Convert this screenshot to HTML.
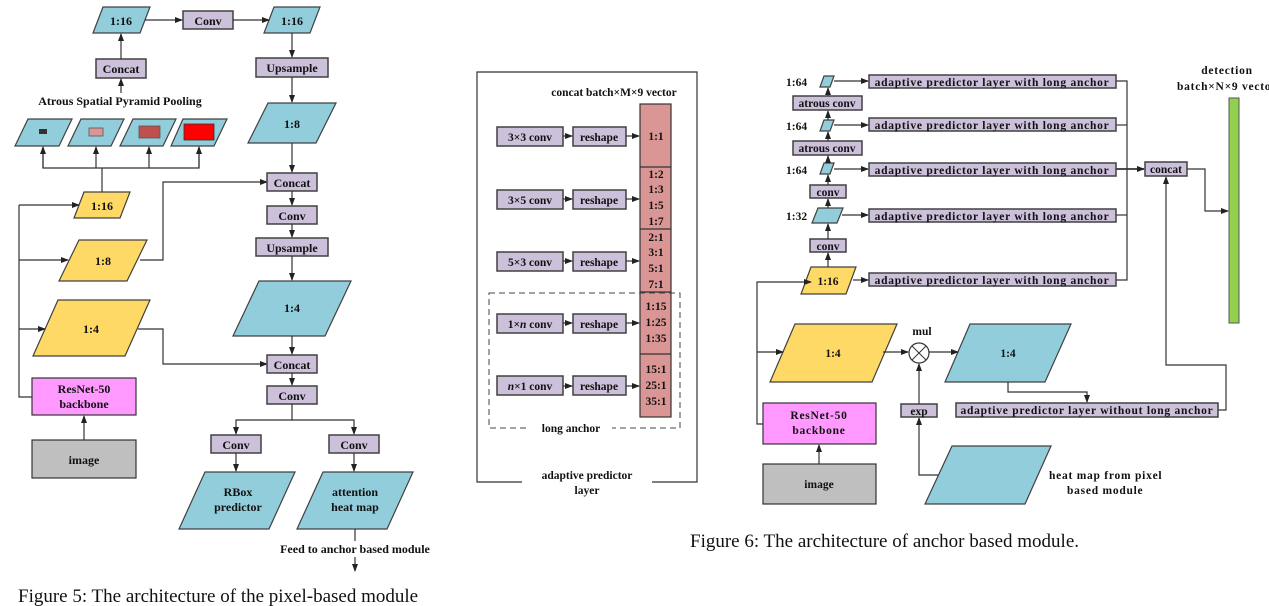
<!DOCTYPE html>
<html><head><meta charset="utf-8"><style>
html,body{margin:0;padding:0;background:#fff;}
svg{display:block;}
text{font-family:"Liberation Serif",serif;font-weight:bold;fill:#111;}
.c{text-anchor:middle;}
.l{stroke:#333;stroke-width:1.2;fill:none;}
.b{fill:#92cddc;stroke:#404040;stroke-width:1.2;}
.y{fill:#ffd966;stroke:#404040;stroke-width:1.2;}
.p{fill:#ccc0da;stroke:#404040;stroke-width:1.5;}
.cap{font-weight:normal;font-size:19px;}
.ap{letter-spacing:0.75px;}
</style></head><body>
<svg width="1269" height="606" viewBox="0 0 1269 606" xmlns="http://www.w3.org/2000/svg">
<defs><marker id="a" markerWidth="8" markerHeight="6" refX="7" refY="3" orient="auto" markerUnits="userSpaceOnUse"><path d="M0,0L8,3L0,6z" fill="#222"/></marker></defs>

<!-- ===== Figure 5 ===== -->
<g font-size="12">
<polygon class="b" points="103,7 150,7 140,33 93,33"/><text x="121" y="25" class="c">1:16</text>
<rect class="p" x="183" y="11" width="50" height="18"/><text x="208" y="25" class="c">Conv</text>
<polygon class="b" points="274,7 320,7 310,33 264,33"/><text x="292" y="25" class="c">1:16</text>
<line class="l" x1="145" y1="20" x2="182" y2="20" marker-end="url(#a)"/>
<line class="l" x1="233" y1="20" x2="269" y2="20" marker-end="url(#a)"/>
<rect class="p" x="96" y="59" width="50" height="19"/><text x="121" y="73" class="c">Concat</text>
<line class="l" x1="121" y1="59" x2="121" y2="34" marker-end="url(#a)"/>
<line class="l" x1="121" y1="93" x2="121" y2="79" marker-end="url(#a)"/>
<text x="120" y="105" class="c" font-size="12">Atrous Spatial Pyramid Pooling</text>
<polygon class="b" points="28,119 72,119 59,146 15,146"/><rect x="39" y="129" width="8" height="5" fill="#333"/>
<polygon class="b" points="81,119 124,119 111,146 68,146"/><rect x="89" y="128" width="14" height="8" fill="#da9694" stroke="#555" stroke-width=".8"/>
<polygon class="b" points="133,119 176,119 163,146 120,146"/><rect x="139" y="126" width="21" height="12" fill="#c0504d" stroke="#555" stroke-width=".8"/>
<polygon class="b" points="183,119 227,119 214,146 171,146"/><rect x="184" y="124" width="30" height="16" fill="#f00" stroke="#333" stroke-width=".8"/>
<polyline class="l" points="43,147 43,168 199,168 199,147"/>
<line class="l" x1="43" y1="168" x2="43" y2="147" marker-end="url(#a)"/>
<line class="l" x1="96" y1="168" x2="96" y2="147" marker-end="url(#a)"/>
<line class="l" x1="149" y1="168" x2="149" y2="147" marker-end="url(#a)"/>
<line class="l" x1="199" y1="168" x2="199" y2="147" marker-end="url(#a)"/>
<line class="l" x1="102" y1="168" x2="102" y2="193"/>
<polygon class="y" points="84,192 130,192 120,218 74,218"/><text x="102" y="210" class="c">1:16</text>
<polygon class="y" points="79,240 147,240 127,281 59,281"/><text x="103" y="265" class="c">1:8</text>
<polygon class="y" points="58,300 150,300 125,356 33,356"/><text x="91" y="333" class="c">1:4</text>
<polyline class="l" points="32,397 19,397 19,205"/>
<line class="l" x1="19" y1="205" x2="79" y2="205" marker-end="url(#a)"/>
<line class="l" x1="19" y1="260" x2="68" y2="260" marker-end="url(#a)"/>
<line class="l" x1="19" y1="329" x2="45" y2="329" marker-end="url(#a)"/>
<rect x="32" y="378" width="104" height="37" fill="#ff99ff" stroke="#333" stroke-width="1.2"/>
<text x="84" y="393" class="c">ResNet-50</text><text x="84" y="408" class="c">backbone</text>
<rect x="32" y="440" width="104" height="38" fill="#bfbfbf" stroke="#333" stroke-width="1.2"/><text x="84" y="464" class="c">image</text>
<line class="l" x1="84" y1="440" x2="84" y2="416" marker-end="url(#a)"/>
<polyline class="l" points="140,260 163,260 163,182 267,182" marker-end="url(#a)"/>
<polyline class="l" points="138,329 163,329 163,364 267,364" marker-end="url(#a)"/>
<rect class="p" x="256" y="58" width="72" height="19"/><text x="292" y="72" class="c">Upsample</text>
<line class="l" x1="292" y1="33" x2="292" y2="57" marker-end="url(#a)"/>
<line class="l" x1="292" y1="77" x2="292" y2="102" marker-end="url(#a)"/>
<polygon class="b" points="268,103 336,103 316,143 248,143"/><text x="292" y="128" class="c">1:8</text>
<line class="l" x1="292" y1="143" x2="292" y2="172" marker-end="url(#a)"/>
<rect class="p" x="267" y="173" width="50" height="18"/><text x="292" y="187" class="c">Concat</text>
<line class="l" x1="292" y1="191" x2="292" y2="205" marker-end="url(#a)"/>
<rect class="p" x="267" y="206" width="50" height="18"/><text x="292" y="220" class="c">Conv</text>
<line class="l" x1="292" y1="224" x2="292" y2="237" marker-end="url(#a)"/>
<rect class="p" x="256" y="238" width="72" height="18"/><text x="292" y="252" class="c">Upsample</text>
<line class="l" x1="292" y1="256" x2="292" y2="280" marker-end="url(#a)"/>
<polygon class="b" points="259,281 351,281 325,336 233,336"/><text x="292" y="312" class="c">1:4</text>
<line class="l" x1="292" y1="336" x2="292" y2="354" marker-end="url(#a)"/>
<rect class="p" x="267" y="355" width="50" height="18"/><text x="292" y="369" class="c">Concat</text>
<line class="l" x1="292" y1="373" x2="292" y2="385" marker-end="url(#a)"/>
<rect class="p" x="267" y="386" width="50" height="18"/><text x="292" y="400" class="c">Conv</text>
<polyline class="l" points="292,404 292,420 236,420 236,434" marker-end="url(#a)"/>
<polyline class="l" points="292,420 354,420 354,434" marker-end="url(#a)"/>
<rect class="p" x="211" y="435" width="50" height="18"/><text x="236" y="449" class="c">Conv</text>
<rect class="p" x="329" y="435" width="50" height="18"/><text x="354" y="449" class="c">Conv</text>
<line class="l" x1="236" y1="453" x2="236" y2="471" marker-end="url(#a)"/>
<line class="l" x1="354" y1="453" x2="354" y2="471" marker-end="url(#a)"/>
<polygon class="b" points="205,472 295,472 269,529 179,529"/><text x="238" y="496" class="c">RBox</text><text x="238" y="511" class="c">predictor</text>
<polygon class="b" points="323,472 413,472 387,529 297,529"/><text x="355" y="496" class="c">attention</text><text x="355" y="511" class="c">heat map</text>
<line class="l" x1="355" y1="529" x2="355" y2="541"/>
<text x="355" y="553" class="c" font-size="12">Feed to anchor based module</text>
<line class="l" x1="355" y1="557" x2="355" y2="571" marker-end="url(#a)"/>
</g>
<text x="18" y="602" class="cap">Figure 5: The architecture of the pixel-based module</text>

<!-- ===== Middle: adaptive predictor layer ===== -->
<g font-size="11.5">
<polyline points="522,482 477,482 477,72 697,72 697,482 652,482" fill="none" stroke="#333" stroke-width="1.2"/>
<text x="614" y="96" class="c">concat batch×M×9 vector</text>
<rect x="640" y="104" width="31" height="313" fill="#da9694" stroke="#333" stroke-width="1.2"/>
<g stroke="#333" stroke-width="1.2"><line x1="640" y1="167" x2="671" y2="167"/><line x1="640" y1="229" x2="671" y2="229"/><line x1="640" y1="292" x2="671" y2="292"/><line x1="640" y1="354" x2="671" y2="354"/></g>
<text x="656" y="140" class="c">1:1</text>
<text x="656" y="178" class="c">1:2</text><text x="656" y="193" class="c">1:3</text><text x="656" y="209" class="c">1:5</text><text x="656" y="225" class="c">1:7</text>
<text x="656" y="241" class="c">2:1</text><text x="656" y="256" class="c">3:1</text><text x="656" y="272" class="c">5:1</text><text x="656" y="288" class="c">7:1</text>
<text x="656" y="310" class="c">1:15</text><text x="656" y="326" class="c">1:25</text><text x="656" y="342" class="c">1:35</text>
<text x="656" y="373" class="c">15:1</text><text x="656" y="389" class="c">25:1</text><text x="656" y="405" class="c">35:1</text>
<rect x="489" y="293" width="191" height="135" fill="none" stroke="#444" stroke-width="1" stroke-dasharray="6,4"/>
<rect x="530" y="421" width="82" height="14" fill="#fff"/>
<text x="571" y="432" class="c">long anchor</text>
<text x="587" y="479" class="c">adaptive predictor</text><text x="587" y="494" class="c">layer</text>
<g>
<rect class="p" x="497" y="127" width="66" height="19"/><text x="530" y="141" class="c">3×3 conv</text>
<rect class="p" x="573" y="127" width="53" height="19"/><text x="599" y="141" class="c">reshape</text>
<rect class="p" x="497" y="190" width="66" height="19"/><text x="530" y="204" class="c">3×5 conv</text>
<rect class="p" x="573" y="190" width="53" height="19"/><text x="599" y="204" class="c">reshape</text>
<rect class="p" x="497" y="252" width="66" height="19"/><text x="530" y="266" class="c">5×3 conv</text>
<rect class="p" x="573" y="252" width="53" height="19"/><text x="599" y="266" class="c">reshape</text>
<rect class="p" x="497" y="314" width="66" height="19"/><text x="530" y="328" class="c">1×<tspan font-style="italic">n</tspan> conv</text>
<rect class="p" x="573" y="314" width="53" height="19"/><text x="599" y="328" class="c">reshape</text>
<rect class="p" x="497" y="376" width="66" height="19"/><text x="530" y="390" class="c"><tspan font-style="italic">n</tspan>×1 conv</text>
<rect class="p" x="573" y="376" width="53" height="19"/><text x="599" y="390" class="c">reshape</text>
</g>
<g class="l">
<line x1="563" y1="136" x2="572" y2="136" marker-end="url(#a)"/><line x1="626" y1="136" x2="639" y2="136" marker-end="url(#a)"/>
<line x1="563" y1="199" x2="572" y2="199" marker-end="url(#a)"/><line x1="626" y1="199" x2="639" y2="199" marker-end="url(#a)"/>
<line x1="563" y1="261" x2="572" y2="261" marker-end="url(#a)"/><line x1="626" y1="261" x2="639" y2="261" marker-end="url(#a)"/>
<line x1="563" y1="323" x2="572" y2="323" marker-end="url(#a)"/><line x1="626" y1="323" x2="639" y2="323" marker-end="url(#a)"/>
<line x1="563" y1="386" x2="572" y2="386" marker-end="url(#a)"/><line x1="626" y1="386" x2="639" y2="386" marker-end="url(#a)"/>
</g>
</g>

<!-- ===== Figure 6 ===== -->
<g font-size="11.5">
<text x="786" y="86">1:64</text><text x="786" y="130">1:64</text><text x="786" y="174">1:64</text><text x="786" y="220">1:32</text>
<polygon class="b" points="824,76 834,76 830,87 820,87"/>
<polygon class="b" points="824,120 834,120 830,131 820,131"/>
<polygon class="b" points="824,163 834,163 830,174 820,174"/>
<polygon class="b" points="818,208 843,208 837,223 812,223"/>
<rect class="p" x="793" y="96" width="69" height="14"/><text x="827" y="107" class="c">atrous conv</text>
<rect class="p" x="793" y="141" width="69" height="14"/><text x="827" y="152" class="c">atrous conv</text>
<rect class="p" x="810" y="185" width="36" height="13"/><text x="828" y="196" class="c">conv</text>
<rect class="p" x="810" y="239" width="36" height="13"/><text x="828" y="250" class="c">conv</text>
<polygon class="y" points="811,267 856,267 846,294 801,294"/><text x="828" y="285" class="c">1:16</text>
<g class="l">
<line x1="828" y1="96" x2="828" y2="88" marker-end="url(#a)"/>
<line x1="828" y1="120" x2="828" y2="111" marker-end="url(#a)"/>
<line x1="828" y1="141" x2="828" y2="132" marker-end="url(#a)"/>
<line x1="828" y1="163" x2="828" y2="156" marker-end="url(#a)"/>
<line x1="828" y1="185" x2="828" y2="175" marker-end="url(#a)"/>
<line x1="828" y1="208" x2="828" y2="199" marker-end="url(#a)"/>
<line x1="828" y1="239" x2="828" y2="224" marker-end="url(#a)"/>
<line x1="828" y1="267" x2="828" y2="253" marker-end="url(#a)"/>
<line x1="834" y1="81" x2="868" y2="81" marker-end="url(#a)"/>
<line x1="834" y1="125" x2="868" y2="125" marker-end="url(#a)"/>
<line x1="834" y1="169" x2="868" y2="169" marker-end="url(#a)"/>
<line x1="842" y1="215" x2="868" y2="215" marker-end="url(#a)"/>
<line x1="853" y1="280" x2="868" y2="280" marker-end="url(#a)"/>
<polyline points="1116,81 1127,81 1127,280 1116,280"/>
<line x1="1116" y1="125" x2="1127" y2="125"/><line x1="1116" y1="215" x2="1127" y2="215"/>
<line x1="1116" y1="169" x2="1144" y2="169" marker-end="url(#a)" stroke-width="1.8"/>
<polyline points="1187,169 1205,169 1205,211 1228,211" marker-end="url(#a)"/>
<polyline points="1218,410 1226,410 1226,365 1166,365 1166,177" marker-end="url(#a)"/>
</g>
<g class="ap">
<rect class="p" x="869" y="75" width="247" height="13"/><text x="992" y="86" class="c">adaptive predictor layer with long anchor</text>
<rect class="p" x="869" y="118" width="247" height="13"/><text x="992" y="129" class="c">adaptive predictor layer with long anchor</text>
<rect class="p" x="869" y="163" width="247" height="13"/><text x="992" y="174" class="c">adaptive predictor layer with long anchor</text>
<rect class="p" x="869" y="209" width="247" height="13"/><text x="992" y="220" class="c">adaptive predictor layer with long anchor</text>
<rect class="p" x="869" y="273" width="247" height="13"/><text x="992" y="284" class="c">adaptive predictor layer with long anchor</text>
</g>
<rect class="p" x="1145" y="162" width="42" height="14"/><text x="1166" y="173" class="c">concat</text>
<rect x="1229" y="98" width="10" height="225" fill="#92d050" stroke="#555" stroke-width="1"/>
<text x="1227" y="74" class="c ap">detection</text>
<text x="1177" y="90" class="ap">batch×N×9 vector</text>

<polygon class="y" points="795,324 897,324 872,382 770,382"/><text x="833" y="357" class="c">1:4</text>
<polygon class="b" points="970,324 1071,324 1045,382 945,382"/><text x="1008" y="357" class="c">1:4</text>
<circle cx="919" cy="353" r="10" fill="#fff" stroke="#333" stroke-width="1.2"/>
<line x1="912" y1="346" x2="926" y2="360" stroke="#333"/><line x1="926" y1="346" x2="912" y2="360" stroke="#333"/>
<text x="922" y="335" class="c">mul</text>
<g class="l">
<polyline points="763,424 757,424 757,282 811,282" marker-end="url(#a)"/>
<line x1="757" y1="352" x2="783" y2="352" marker-end="url(#a)"/>
<line x1="883" y1="352" x2="908" y2="352" marker-end="url(#a)"/>
<line x1="929" y1="352" x2="958" y2="352" marker-end="url(#a)"/>
<polyline points="1008,382 1008,392 1087,392 1087,402" marker-end="url(#a)"/>
<line x1="919" y1="404" x2="919" y2="364" marker-end="url(#a)"/>
<polyline points="940,475 919,475 919,418" marker-end="url(#a)"/>
<line x1="819" y1="464" x2="819" y2="445" marker-end="url(#a)"/>
</g>
<rect class="p" x="901" y="404" width="36" height="13"/><text x="919" y="415" class="c">exp</text>
<rect class="p" x="956" y="403" width="262" height="14"/><text x="1087" y="414" class="c ap">adaptive predictor layer without long anchor</text>
<rect x="763" y="403" width="113" height="41" fill="#ff99ff" stroke="#333" stroke-width="1.2"/>
<text x="819" y="419" class="c ap">ResNet-50</text><text x="819" y="434" class="c ap">backbone</text>
<rect x="763" y="464" width="113" height="40" fill="#bfbfbf" stroke="#333" stroke-width="1.2"/><text x="819" y="488" class="c">image</text>
<polygon class="b" points="952,446 1051,446 1025,504 925,504"/>
<text x="1049" y="479" class="ap">heat map from pixel</text><text x="1067" y="494" class="ap">based module</text>
</g>
<text x="690" y="547" class="cap">Figure 6: The architecture of anchor based module.</text>
</svg>
</body></html>
